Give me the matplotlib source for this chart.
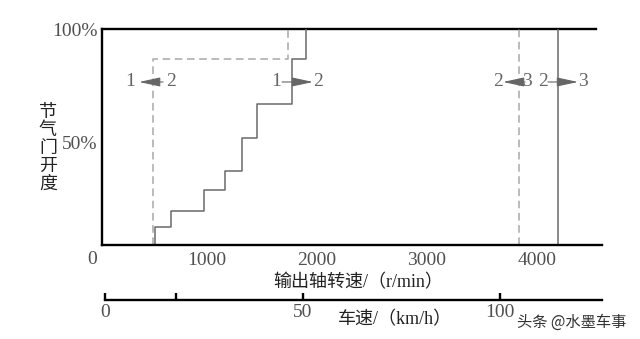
import matplotlib.pyplot as plt

# 数据：换挡规律（输出轴转速 r/min，节气门开度 %）
up12_rpm = [530, 670, 970, 1160, 1315, 1450, 1770, 1900, 1900]
up12_throttle = [5, 12.8, 20, 29, 37.5, 52, 67, 86.7, 100]
down21_rpm = [505, 1734, 1734]
down21_throttle = [5, 86.7, 100]
down32_rpm = 3836
up23_rpm = 4191

rpm_ticks = [1000, 2000, 3000, 4000]
throttle_ticks = [50, 100]
throttle_labels = ['50%', '100%']
speed_ticks = [0, 18, 50, 100]
speed_labels = ['0', '', '50', '100']

# 箭头标注 (文字左, 文字右, 箭尾, 箭头)
arrows = [
    ('1', '2', 300, 673, 600, 382),
    ('1', '2', 1627, 2009, 1682, 1964),
    ('2', '3', 3645, 3909, 3891, 3691),
    ('2', '3', 4055, 4418, 4100, 4373),
]
arrow_y = 76.7

serif = ['Liberation Serif', 'Noto Sans CJK SC']
cjk = ['Noto Sans CJK SC', 'Liberation Serif']
num_color = '#505050'
line_gray = '#6a6a6a'
dash_gray = '#a8a8a8'

fig = plt.figure(figsize=(6.4, 3.39), dpi=100)
ax = fig.add_axes([102 / 640, 1 - 245 / 339, 500 / 640, 216 / 339])
ax.set_xlim(45, 4591)
ax.set_ylim(5, 100)

for s in ['top', 'right']:
    ax.spines[s].set_visible(False)
for s in ['left', 'bottom']:
    ax.spines[s].set_linewidth(1.7)
ax.axhline(100, xmax=0.988, color='black', lw=1.7, clip_on=False)

ax.step(up12_rpm, up12_throttle, where='pre', color=line_gray, lw=1.1)
ax.step(down21_rpm, down21_throttle, where='pre', color=dash_gray, lw=1.1,
        dashes=(5, 3))
ax.axvline(down32_rpm, color=dash_gray, lw=1.1, dashes=(5, 3))
ax.axvline(up23_rpm, color=line_gray, lw=1.1)

for t1, t2, x1, x2, tail, tip in arrows:
    ax.text(x1, arrow_y, t1, ha='center', va='center', fontsize=14,
            family=serif, color='#666666')
    ax.text(x2, arrow_y, t2, ha='center', va='center', fontsize=14,
            family=serif, color='#666666')
    ax.annotate('', xy=(tip, arrow_y), xytext=(tail, arrow_y),
                arrowprops=dict(arrowstyle='-|>,head_length=1.3,head_width=0.28',
                                color='#666666', lw=0.8, shrinkA=0, shrinkB=0,
                                mutation_scale=10))

ax.set_xticks(rpm_ticks)
ax.set_xticklabels([str(v) for v in rpm_ticks], family=serif, fontsize=14,
                   color=num_color)
ax.set_yticks(throttle_ticks)
ax.set_yticklabels(throttle_labels, family=serif, fontsize=14, color=num_color)
ax.tick_params(axis='x', length=0, pad=5)
ax.tick_params(axis='y', length=0, pad=3)
ax.text(-45, -0.03, '0', transform=ax.get_xaxis_transform(), ha='center',
        va='top', fontsize=14, family=serif, color=num_color)

fig.text(358 / 640, 1 - 283 / 339, '输出轴转速/（r/min）', ha='center',
         va='center', fontsize=13, family=serif, color='#222222')
fig.text(48 / 640, 1 - 148 / 339, '节\n气\n门\n开\n度', ha='center',
         va='center', fontsize=13, family=cjk, color='#222222', linespacing=1.0)

# 车速副坐标轴
ax2 = fig.add_axes([105 / 640, 1 - 300 / 339, 497 / 640, 0.001])
ax2.set_xlim(0, 125.8)
ax2.set_yticks([])
for s in ['top', 'right', 'left']:
    ax2.spines[s].set_visible(False)
ax2.spines['bottom'].set_linewidth(1.7)
ax2.set_xticks(speed_ticks)
ax2.set_xticklabels(speed_labels, family=serif, fontsize=14, color=num_color)
ax2.tick_params(axis='x', direction='in', length=5, width=1.7, pad=3)
ax2.patch.set_visible(False)

fig.text(395 / 640, 1 - 320 / 339, '车速/（km/h）', ha='center', va='center',
         fontsize=13, family=serif, color='#222222')
fig.text(572 / 640, 1 - 322 / 339, '头条 @水墨车事', ha='center', va='center',
         fontsize=11, family=cjk, color='#333333')

fig.savefig('out.png', dpi=100)
